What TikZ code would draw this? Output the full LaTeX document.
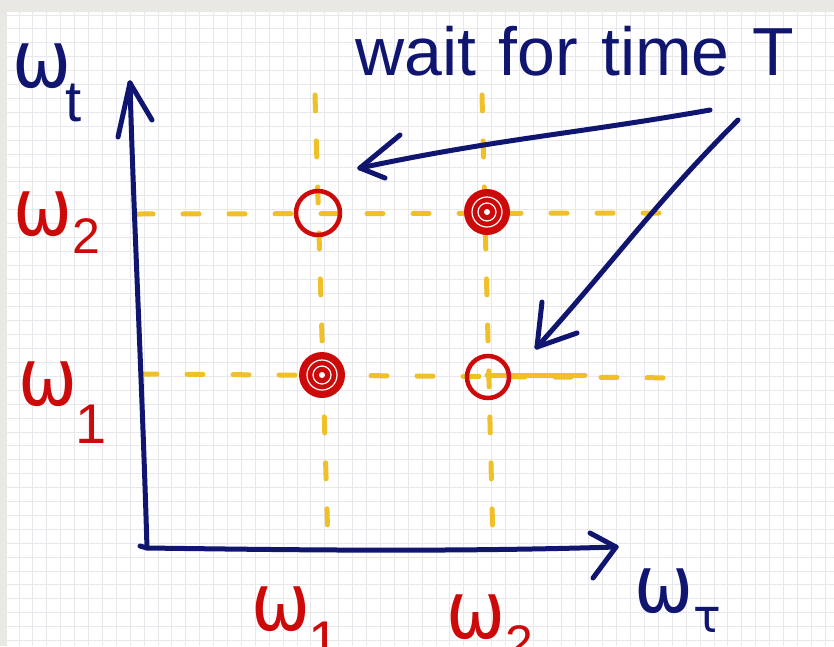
\documentclass[tikz,border=0pt]{standalone}
\usepackage{fontspec}
\setmainfont{Liberation Sans}
\newfontfamily\omf{DejaVu Sans}
\definecolor{ink}{RGB}{16,22,112}
\definecolor{redink}{RGB}{205,10,10}
\definecolor{yel}{RGB}{240,192,40}
\definecolor{gridc}{RGB}{232,232,236}
\definecolor{framec}{RGB}{234,232,229}
\tikzset{
  axisline/.style={draw=ink, line width=5pt, line cap=round, line join=round},
  yeldash/.style={draw=yel, line width=5pt, line cap=round, dash pattern=on 16pt off 30pt},
  opencirc/.style={circle, draw=redink, line width=4.5pt, minimum size=44pt, inner sep=0pt},
  fullcirc/.style={circle, fill=redink, minimum size=46pt, inner sep=0pt},
  redlab/.style={text=redink, anchor=base west, inner sep=0pt},
  bluelab/.style={text=ink, anchor=base west, inner sep=0pt},
}
\newcommand{\om}{\scalebox{0.88}[1]{\omf\fontsize{80}{80}\selectfont ω}}
\begin{document}
\begin{tikzpicture}[x=1pt,y=-1pt]
\useasboundingbox (0,0) rectangle (834,646);
% paper frame and grid
\fill[framec] (0,0) rectangle (834,646);
\fill[white] (7,12) rectangle (834,646);
\foreach \i in {0,...,58} \draw[gridc, line width=1pt] (19+13.9*\i,12) -- ++(0,634);
\foreach \j in {0,...,45} \draw[gridc, line width=1pt] (7,15+13.9*\j) -- ++(827,0);

% coordinates
\coordinate (O) at (147,548);
\coordinate (ytip) at (130,83);
\coordinate (xtip) at (616,547);
\coordinate (h2a) at (137,214);
\coordinate (h2b) at (668,213);
\coordinate (h1a) at (141,374);
\coordinate (h1b) at (690,378);
\coordinate (h1s) at (585,375);
\coordinate (v1a) at (315,95);
\coordinate (v1b) at (328,545);
\coordinate (v2a) at (482,95);
\coordinate (v2b) at (493,545);

% dashed guide lines
\draw[yeldash] (h2a) -- (h2b);
\draw[yeldash] (h1a) -- (h1b);
\draw[draw=yel, line width=5pt, line cap=round] (487,375) -- (h1s);
\draw[yeldash] (v1a) -- (v1b);
\draw[yeldash] (v2a) -- (v2b);

% points
\node[opencirc] (p12) at (318,213) {};
\node[opencirc, minimum size=42pt] (p21) at (488,377) {};
\node[fullcirc] (p22) at (487,212) {};
\draw[white, line width=1.2pt] (p22) circle (15) (p22) circle (9);
\fill[white] (p22) circle (3);
\node[fullcirc] (p11) at (322,375) {};
\draw[white, line width=1.2pt] (p11) circle (15) (p11) circle (9);
\fill[white] (p11) circle (3);

% axes
\draw[axisline] (O) .. controls (142,380) and (133,200) .. (ytip);
\draw[axisline] (ytip) -- ++(-12,54);
\draw[axisline] (ytip) -- ++(22,37);
\draw[axisline] (140,546) -- (O) .. controls (300,550) and (450,552) .. (xtip);
\draw[axisline] (xtip) -- ++(-26,-14);
\draw[axisline] (xtip) -- ++(-23,31);

% annotation
\node[bluelab] (txt) at (355,75) {\fontsize{68}{68}\selectfont wait\hspace{4pt} for\hspace{4pt} time\hspace{4pt} T};
\coordinate (a1s) at (710,110);
\coordinate (a2s) at (738,120);
\coordinate (a1t) at (360,168);
\draw[axisline] (a1s) to[out=190,in=12] (a1t);
\draw[axisline] (a1t) -- ++(40,-33);
\draw[axisline] (a1t) -- ++(25,10);
\coordinate (a2t) at (537,347);
\draw[axisline] (a2s) to[out=225,in=48] (a2t);
\draw[axisline] (a2t) -- ++(5,-45);
\draw[axisline] (a2t) -- ++(40,-14);

% axis labels
\node[bluelab] (lwt) at (12,87) {\om\kern-6pt\raisebox{-34pt}{\fontsize{58}{58}\selectfont t}};
\node[bluelab] (lwtau) at (634,612) {\om\raisebox{-20pt}{\omf\fontsize{46}{46}\selectfont τ}};
\node[redlab] (ly2) at (13,235) {\om\raisebox{-18pt}{\fontsize{50}{50}\selectfont 2}};
\node[redlab] (ly1) at (18,405) {\om\kern-2pt\raisebox{-38pt}{\fontsize{56}{56}\selectfont 1}};
\node[redlab] (lx1) at (251,630) {\om\kern-2pt\raisebox{-30pt}{\fontsize{56}{56}\selectfont 1}};
\node[redlab] (lx2) at (446,638) {\om\raisebox{-22pt}{\fontsize{50}{50}\selectfont 2}};
\end{tikzpicture}
\end{document}
